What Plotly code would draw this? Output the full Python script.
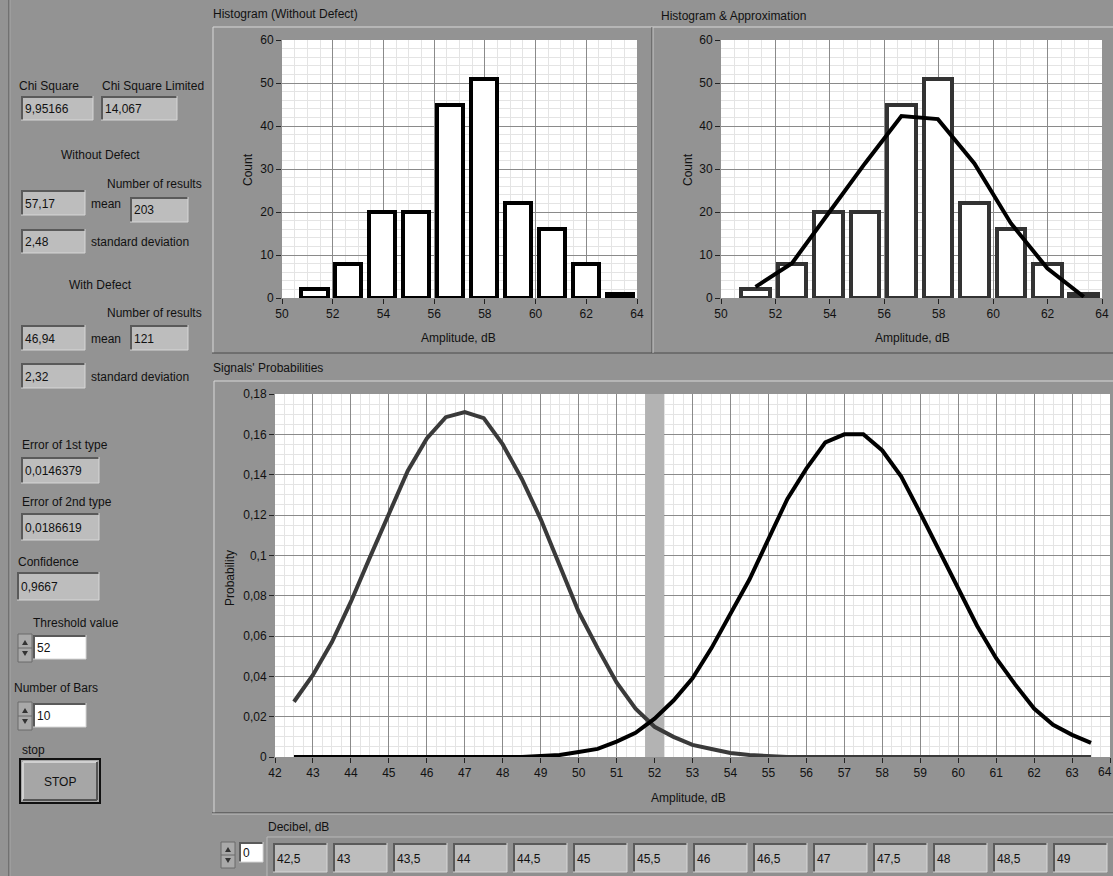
import plotly.graph_objects as go

W, H = 1113, 876
FONT = "Liberation Sans, Arial, sans-serif"

# ---------------- data ----------------
bin_centers = [51.27, 52.61, 53.95, 55.29, 56.63, 57.97, 59.31, 60.65, 61.99, 63.33]
counts = [2, 8, 20, 20, 45, 51, 22, 16, 8, 1]
approx_counts = [2.6, 8.1, 19.7, 31.3, 42.3, 41.6, 31.3, 17.4, 6.9, 0.3]

amplitude = [42.5, 43, 43.5, 44, 44.5, 45, 45.5, 46, 46.5, 47, 47.5, 48, 48.5, 49, 49.5,
             50, 50.5, 51, 51.5, 52, 52.5, 53, 53.5, 54, 54.5, 55, 55.5, 56, 56.5, 57,
             57.5, 58, 58.5, 59, 59.5, 60, 60.5, 61, 61.5, 62, 62.5, 63, 63.5]
p_with_defect = [0.0274, 0.0407, 0.057, 0.077, 0.099, 0.120, 0.142, 0.158, 0.1685, 0.171,
                 0.168, 0.155, 0.138, 0.118, 0.095, 0.072, 0.054, 0.037, 0.024, 0.015,
                 0.010, 0.006, 0.004, 0.002, 0.001, 0.0005, 0, 0, 0, 0,
                 0, 0, 0, 0, 0, 0, 0, 0, 0, 0, 0, 0, 0]
p_without_defect = [0, 0, 0, 0, 0, 0, 0, 0, 0, 0, 0, 0, 0, 0.0005, 0.001,
                    0.0025, 0.004, 0.0076, 0.012, 0.019, 0.028, 0.039, 0.054, 0.071, 0.088,
                    0.108, 0.128, 0.143, 0.156, 0.160, 0.160, 0.152, 0.139, 0.121, 0.102,
                    0.083, 0.065, 0.049, 0.036, 0.024, 0.016, 0.011, 0.007]

threshold = 52
threshold_halfwidth = 0.25

hist_xticks = [50, 52, 54, 56, 58, 60, 62, 64]
hist_yticks = [0, 10, 20, 30, 40, 50, 60]
prob_xticks = list(range(42, 65))
prob_yticks = [0, 0.02, 0.04, 0.06, 0.08, 0.1, 0.12, 0.14, 0.16, 0.18]
prob_yticktext = ["0", "0,02", "0,04", "0,06", "0,08", "0,1", "0,12", "0,14", "0,16", "0,18"]

decibel = [42.5, 43, 43.5, 44, 44.5, 45, 45.5, 46, 46.5, 47, 47.5, 48, 48.5, 49]

chi_square = "9,95166"
chi_square_limited = "14,067"
wo_mean, wo_n, wo_sd = "57,17", "203", "2,48"
w_mean, w_n, w_sd = "46,94", "121", "2,32"
err1, err2, confidence = "0,0146379", "0,0186619", "0,9667"
threshold_text, n_bars_text = "52", "10"

# ---------------- helpers ----------------
def px(x):
    return x / W

def py(y):
    return 1 - y / H

shapes = []
annotations = []

def rect(x0, y0, x1, y1, fill, lc=None, lw=0, layer="above"):
    shapes.append(dict(type="rect", xref="paper", yref="paper",
                       x0=px(x0), x1=px(x1), y0=py(y1), y1=py(y0),
                       fillcolor=fill, line=dict(color=lc or fill, width=lw), layer=layer))

def line(x0, y0, x1, y1, color, w=1, layer="above"):
    shapes.append(dict(type="line", xref="paper", yref="paper",
                       x0=px(x0), x1=px(x1), y0=py(y0), y1=py(y1),
                       line=dict(color=color, width=w), layer=layer))

def text(x, y, s, size=12, anchor="left", color="#111111", angle=0):
    annotations.append(dict(x=px(x), y=py(y), xref="paper", yref="paper", text=s,
                            showarrow=False, xanchor=anchor, yanchor="middle",
                            textangle=angle, borderpad=0,
                            font=dict(family=FONT, size=size, color=color)))

def indicator(x0, y0, x1, y1, s, fill="#bdbdbd"):
    rect(x0, y0, x1, y1, fill)
    line(x0, y0 + 1, x1, y0 + 1, "#5a5a5a", 2)
    line(x0 + 1, y0, x0 + 1, y1, "#5a5a5a", 2)
    line(x0, y1, x1, y1, "#d6d6d6", 1)
    line(x1, y0, x1, y1, "#d6d6d6", 1)
    text(x0 + 3, (y0 + y1) / 2 + 1, s)

def spinner(x0, y0, x1, y1):
    rect(x0, y0, x1, y1, "#a9a9a9", "#6a6a6a", 1)
    cx = (x0 + x1) / 2
    my = (y0 + y1) / 2
    shapes.append(dict(type="path", xref="paper", yref="paper",
                       path=f"M {px(cx-3)},{py(my-3)} L {px(cx+3)},{py(my-3)} L {px(cx)},{py(my-8)} Z",
                       fillcolor="#333333", line=dict(width=0)))
    shapes.append(dict(type="path", xref="paper", yref="paper",
                       path=f"M {px(cx-3)},{py(my+3)} L {px(cx+3)},{py(my+3)} L {px(cx)},{py(my+8)} Z",
                       fillcolor="#333333", line=dict(width=0)))
    line(x0, my, x1, my, "#6a6a6a", 1)

# ---------------- figure ----------------
fig = go.Figure()

fig.add_trace(go.Bar(x=bin_centers, y=counts, width=1.05, xaxis="x", yaxis="y",
                     marker=dict(color="white", line=dict(color="#000000", width=4)),
                     showlegend=False))
fig.add_trace(go.Bar(x=bin_centers, y=counts, width=1.05, xaxis="x2", yaxis="y2",
                     marker=dict(color="white", line=dict(color="#333333", width=4)),
                     showlegend=False))
fig.add_trace(go.Scatter(x=bin_centers, y=approx_counts, mode="lines", xaxis="x2", yaxis="y2",
                         line=dict(color="#000000", width=4), showlegend=False))
fig.add_trace(go.Scatter(x=amplitude, y=p_with_defect, mode="lines", xaxis="x3", yaxis="y3",
                         line=dict(color="#3a3a3a", width=4), showlegend=False))
fig.add_trace(go.Scatter(x=amplitude, y=p_without_defect, mode="lines", xaxis="x3", yaxis="y3",
                         line=dict(color="#000000", width=4), showlegend=False))

tickfont = dict(family=FONT, size=12, color="#111111")

def axis(domain, rng, tv, minor_dt, anchor, tt=None):
    d = dict(domain=domain, range=rng, tickvals=tv, ticks="outside", ticklen=5,
             tickcolor="#222222", tickfont=tickfont, showgrid=True, gridcolor="#8a8a8a",
             gridwidth=1, zeroline=False, showline=False, anchor=anchor, fixedrange=True,
             automargin=False,
             minor=dict(dtick=minor_dt, showgrid=True, gridcolor="#e4e4e4", ticks=""))
    if tt is not None:
        d["ticktext"] = tt
    return d

top_dom = [py(298), py(40)]
fig.update_layout(
    xaxis=axis([px(282), px(637)], [50, 64], hist_xticks, 0.5, "y"),
    yaxis=axis(top_dom, [0, 60], hist_yticks, 2, "x"),
    xaxis2=axis([px(721), px(1102)], [50, 64], hist_xticks, 0.5, "y2"),
    yaxis2=axis(top_dom, [0, 60], hist_yticks, 2, "x2"),
    xaxis3=axis([px(275), px(1110)], [42, 64], prob_xticks, 0.25, "y3"),
    yaxis3=axis([py(757), py(394)], [0, 0.18], prob_yticks, 0.005, "x3", prob_yticktext),
)

# threshold band
shapes.append(dict(type="rect", xref="x3", yref="y3",
                   x0=threshold - threshold_halfwidth, x1=threshold + threshold_halfwidth,
                   y0=0, y1=0.18, fillcolor="#b3b3b3", line=dict(width=0), layer="between"))

# panel frames
line(9, 0, 9, 876, "#4e4e4e", 1)
line(10, 0, 10, 876, "#a8a8a8", 1)
line(213, 27, 1113, 27, "#d8d8d8", 1)
line(213, 27, 213, 353, "#d8d8d8", 1)
line(212, 353, 1113, 353, "#4a4a4a", 1)
line(652, 27, 652, 353, "#4a4a4a", 1)
line(653, 27, 653, 353, "#c8c8c8", 1)
line(214, 381, 1113, 381, "#d8d8d8", 1)
line(214, 381, 214, 813, "#d8d8d8", 1)
line(212, 813, 1113, 813, "#3a3a3a", 1)
line(212, 814, 1113, 814, "#c0c0c0", 1)

# chart titles and axis titles
text(212, 14, "Histogram (Without Defect)")
text(660, 16, "Histogram & Approximation")
text(212, 368, "Signals' Probabilities")
text(458, 338, "Amplitude, dB", anchor="center")
text(912, 338, "Amplitude, dB", anchor="center")
text(688, 798, "Amplitude, dB", anchor="center")
text(248, 170, "Count", anchor="center", angle=-90)
text(688, 170, "Count", anchor="center", angle=-90)
text(230, 578, "Probability", anchor="center", angle=-90)
# last tick label of the probability axis, kept just inside the window edge
text(1097, 772, str(prob_xticks[-1]))

# left column
text(18, 86, "Chi Square")
text(101, 86, "Chi Square Limited")
indicator(21, 96, 93, 120, chi_square)
indicator(101, 96, 177, 120, chi_square_limited)
text(100, 155, "Without Defect", anchor="center")
text(106, 184, "Number of results")
indicator(21, 190, 85, 215, wo_mean)
text(90, 204, "mean")
indicator(130, 197, 188, 222, wo_n)
indicator(21, 229, 85, 253, wo_sd)
text(90, 242, "standard deviation")
text(100, 285, "With Defect", anchor="center")
text(106, 313, "Number of results")
indicator(21, 325, 85, 350, w_mean)
text(90, 339, "mean")
indicator(130, 325, 188, 350, w_n)
indicator(21, 363, 85, 388, w_sd)
text(90, 377, "standard deviation")

text(21, 445, "Error of 1st type")
indicator(21, 457, 99, 483, err1)
text(21, 502, "Error of 2nd type")
indicator(21, 513, 99, 540, err2)
text(17, 562, "Confidence")
indicator(17, 572, 99, 600, confidence)
text(32, 623, "Threshold value")
spinner(18, 634, 32, 662)
indicator(33, 635, 86, 659, threshold_text, fill="#ffffff")
text(13, 688, "Number of Bars")
spinner(18, 702, 32, 730)
indicator(33, 703, 86, 727, n_bars_text, fill="#ffffff")
text(21, 750, "stop")
rect(20, 759, 100, 803, "#a6a6a6", "#111111", 2)
line(23, 762, 97, 762, "#d0d0d0", 2)
line(23, 762, 23, 800, "#d0d0d0", 2)
line(23, 800, 97, 800, "#555555", 2)
line(97, 762, 97, 800, "#555555", 2)
text(60, 782, "STOP", anchor="center")

# decibel array
text(267, 827, "Decibel, dB")
spinner(221, 842, 235, 868)
indicator(239, 842, 263, 862, "0", fill="#ffffff")
rect(267, 837, 1113, 876, "#8f8f8f")
line(267, 837, 1113, 837, "#b8b8b8", 1)
line(267, 837, 267, 876, "#b8b8b8", 1)
for i, v in enumerate(decibel):
    x0 = 273 + i * 60
    s = f"{v:g}".replace(".", ",")
    indicator(x0, 843, x0 + 54, 872, s)

fig.update_layout(
    template="none",
    width=W, height=H, margin=dict(l=0, r=0, t=0, b=0, pad=0, autoexpand=False),
    paper_bgcolor="#939393", plot_bgcolor="#ffffff",
    shapes=shapes, annotations=annotations, bargap=0,
    font=dict(family=FONT, size=12, color="#111111"),
    showlegend=False,
)

fig.write_html("out.html", config={"displayModeBar": False},
               post_script="document.body.style.margin='0';document.body.style.padding='0';document.body.style.overflow='hidden';")
